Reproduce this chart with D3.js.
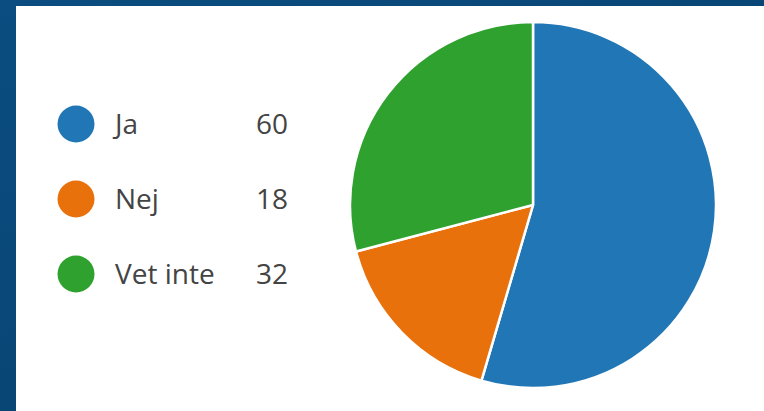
<!DOCTYPE html>
<html>
<head>
<meta charset="utf-8">
<script src="https://cdn.jsdelivr.net/npm/d3@7"></script>
<style>
  body { margin: 0; background: #0a4a7c; }
  svg { display: block; }
  .legend-text { font-family: "Open Sans", sans-serif; font-size: 28px; fill: #444444; }
</style>
</head>
<body>
<div id="chart"></div>
<script>
// answers and counts
const categories = ['Ja', 'Nej', 'Vet inte'];
const counts = [60, 18, 32];
const colors = ['#2177b6', '#e8710c', '#2ea12f'];

const width = 764, height = 411;
const pieCenter = { x: 533, y: 205 };
const radius = 183;

let svg = d3.select('#chart').append('svg')
    .attr('width', width)
    .attr('height', height);

// dark blue backdrop + white card
let defs = svg.append('defs');
let grad = defs.append('linearGradient').attr('id', 'bg-grad')
    .attr('x1', 0).attr('y1', 0).attr('x2', 1).attr('y2', 1);
grad.append('stop').attr('offset', 0).attr('stop-color', '#0b4d80');
grad.append('stop').attr('offset', 1).attr('stop-color', '#063f6c');
svg.append('rect').attr('width', width).attr('height', height).attr('fill', 'url(#bg-grad)');
svg.append('rect')
    .attr('x', 16).attr('y', 6)
    .attr('width', width).attr('height', height)
    .attr('fill', '#ffffff');

let colorScale = d3.scaleOrdinal().domain(categories).range(colors);

let pieData = categories.map((c, i) => ({ category: c, value: counts[i] }));
let pie = d3.pie().sort(null).value(d => d.value);
let arc = d3.arc().innerRadius(0).outerRadius(radius);

svg.append('g')
    .attr('transform', `translate(${pieCenter.x},${pieCenter.y})`)
    .selectAll('path')
    .data(pie(pieData))
    .join('path')
    .attr('d', arc)
    .attr('fill', d => colorScale(d.data.category))
    .attr('stroke', '#ffffff')
    .attr('stroke-width', 2.5)
    .attr('stroke-linejoin', 'round');

// legend
let yScale = d3.scalePoint().domain(categories).range([124, 274]);
let legend = svg.append('g').selectAll('g')
    .data(pieData)
    .join('g')
    .attr('transform', d => `translate(0,${yScale(d.category)})`);

legend.append('circle')
    .attr('cx', 76).attr('cy', 0).attr('r', 18.5)
    .attr('fill', d => colorScale(d.category));

legend.append('text')
    .classed('legend-text', true)
    .attr('x', 115).attr('y', 9.5)
    .text(d => d.category);

legend.append('text')
    .classed('legend-text', true)
    .attr('x', 288).attr('y', 9.5)
    .attr('text-anchor', 'end')
    .text(d => d.value);
</script>
</body>
</html>
